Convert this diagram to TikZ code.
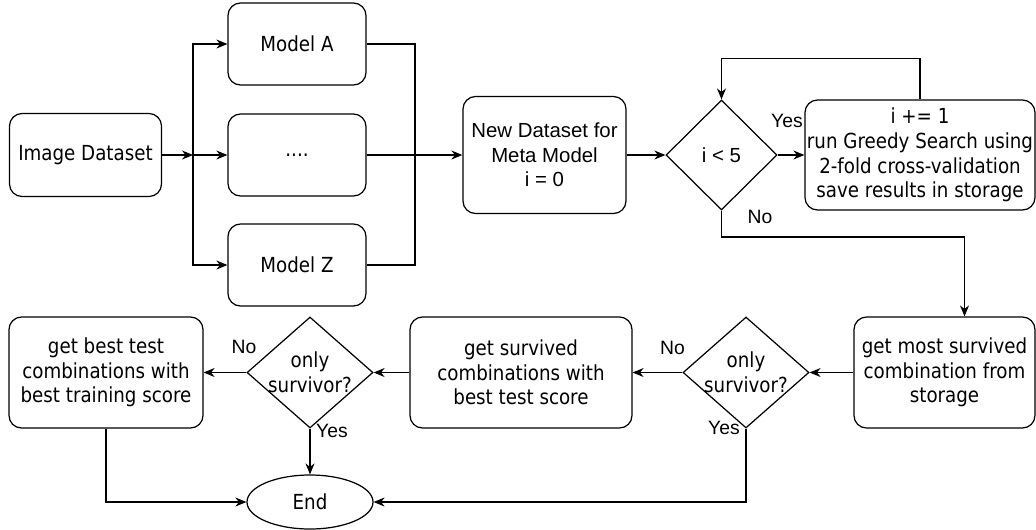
\documentclass[tikz,border=0pt]{standalone}
\usepackage{fontspec}
\setmainfont{DejaVu Sans}[FakeStretch=0.88]
\newfontfamily\arialfont{Liberation Sans}
\usepackage{tikz}
\usetikzlibrary{shapes, arrows.meta, positioning}
\usetikzlibrary{calc}

\begin{document}
\begin{tikzpicture}
  [
    Box/.style={rectangle, rounded corners=0.25cm, draw=black, line width=0.7pt, align=center, inner sep=1pt, font=\fontsize{11.8}{14}\selectfont},
    Decision/.style={diamond, draw=black, line width=0.7pt, align=center, inner sep=-4pt, font=\fontsize{11.8}{14}\selectfont},
    Terminal/.style={ellipse, draw=black, line width=0.7pt, font=\fontsize{11.8}{14}\selectfont},
    Tag/.style={inner sep=0pt, font=\arialfont\fontsize{11}{12}\selectfont},
    every path/.style={line width=0.6pt, -{Stealth[length=2.2mm, width=1.8mm]}}
  ]
  \useasboundingbox (0, 0) rectangle (20.72, -10.58);
  % Nodes
  \node[Box, minimum width=3.04cm, minimum height=1.66cm] (img) at(1.71, -3.10) {Image Dataset};
  \node[Box, minimum width=2.76cm, minimum height=1.64cm] (ma) at(5.94, -0.88) {Model A};
  \node[Box, minimum width=2.76cm, minimum height=1.64cm] (dots) at(5.94, -3.10) {....};
  \node[Box, minimum width=2.76cm, minimum height=1.64cm] (mz) at(5.94, -5.30) {Model Z};
  \node[Box, minimum width=3.26cm, minimum height=2.34cm, font=\arialfont\fontsize{11.6}{14}\selectfont] (nds) at(10.89, -3.10) {New Dataset for\\Meta Model\\i = 0};
  \node[Decision, minimum width=2.22cm, minimum height=2.20cm, font=\arialfont\fontsize{11.6}{14}\selectfont] (d0) at(14.43, -3.10) {i < 5};
  \node[Box, minimum width=4.60cm, minimum height=2.20cm] (greedy) at(18.40, -3.10) {i += 1\\run Greedy Search using\\2-fold cross-validation\\save results in storage};
  \node[Box, minimum width=3.62cm, minimum height=2.22cm] (store) at(18.89, -7.45) {get most survived\\combination from\\storage};
  \node[Decision, minimum width=2.52cm, minimum height=2.22cm] (d2) at(14.92, -7.45) {only\\survivor?};
  \node[Box, minimum width=4.44cm, minimum height=2.22cm] (surv) at(10.42, -7.45) {get survived\\combinations with\\best test score};
  \node[Decision, minimum width=2.52cm, minimum height=2.22cm] (d1) at(6.20, -7.45) {only\\survivor?};
  \node[Box, minimum width=3.88cm, minimum height=2.22cm] (best) at(2.12, -7.45) {get best test\\combinations with\\best training score};
  \node[Terminal, minimum width=2.52cm, minimum height=1.08cm] (end) at(6.20, -10.04) {End};
  % Labels
  \node[Tag] (yes0) at(15.74, -2.42) {Yes};
  \node[Tag] (no0) at(15.20, -4.34) {No};
  \node[Tag] (no2) at(13.45, -6.96) {No};
  \node[Tag] (yes2) at(14.48, -8.56) {Yes};
  \node[Tag] (no1) at(4.88, -6.94) {No};
  \node[Tag] (yes1) at(6.64, -8.62) {Yes};
  % Points
  \coordinate (split) at(3.86, -3.10);
  \coordinate (merge) at(8.30, -3.10);
  \coordinate (looptop) at(14.43, -1.17);
  \coordinate (nobend) at(19.29, -4.74);
  % Lines
  \path [draw] (img) -- (split);
  \path [draw] (split) |- (ma.west);
  \path [draw] (split) -- (dots.west);
  \path [draw] (split) |- (mz.west);
  \path [draw, -] (ma.east) -| (merge) |- (mz.east);
  \path [draw] (dots.east) -- (nds.west);
  \path [draw] (nds) -- (d0);
  \path [draw] (d0) -- (greedy);
  \path [draw] (greedy.north) |- (looptop) -- (d0.north);
  \path [draw] (d0.south) |- (nobend) -- (nobend |- store.north);
  \path [draw] (store) -- (d2);
  \path [draw] (d2) -- (surv);
  \path [draw] (surv) -- (d1);
  \path [draw] (d1) -- (best);
  \path [draw] (d1) -- (end);
  \path [draw] (best.south) |- (end.west);
  \path [draw] (d2.south) |- (end.east);
\end{tikzpicture}
\end{document}
